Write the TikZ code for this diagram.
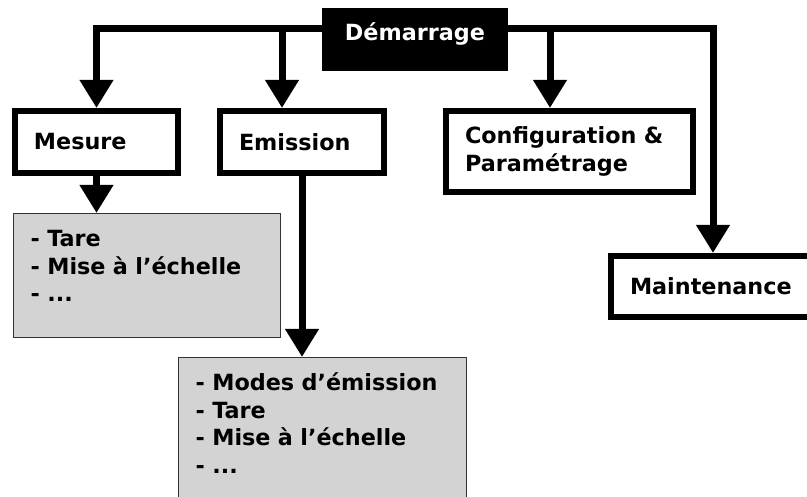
\documentclass[tikz,border=0pt]{standalone}
\usepackage{fontspec}
\setmainfont{DejaVu Sans}
\usepackage{tikz}
\usetikzlibrary{arrows.meta}
\definecolor{listgray}{RGB}{211,211,211}

\begin{document}
\begin{tikzpicture}[x=1pt,y=-1pt,->,>={Triangle[width=32pt,length=28pt]},line width=7pt,
                    every node/.style={font=\bfseries\fontsize{22.3}{27.5}\selectfont},
                    start node/.style={fill=black,draw=black,line width=1pt,text=white,inner sep=0pt,
                      minimum width=185pt,text height=32pt,text depth=30pt},
                    main node/.style={draw,line width=6pt,inner xsep=19pt,inner ysep=0pt,align=left},
                    list node/.style={draw=black!80,fill=listgray,line width=1.3pt,inner xsep=17pt,
                      inner ysep=0pt,text height=33pt,align=left,anchor=north west}]

  \useasboundingbox (0,0) rectangle (807,497);
  \clip (0,0) rectangle (807,497);

  \node[start node] (demarrage) at (415,39.5) {Démarrage};
  \node[main node,text width=125pt,minimum height=62pt] (mesure) at (96.5,142) {Mesure};
  \node[main node,text width=126pt,minimum height=62pt] (emission) at (302,142) {Emission};
  \node[main node,text width=209pt,minimum height=81pt] (config) at (569.5,151.5) {Configuration \&\\Paramétrage};
  \node[main node,text width=166pt,minimum height=61pt] (maint) at (713,286.5) {Maintenance};

  \node[list node,text width=233pt,text depth=91pt] (mesliste) at (13,213)
    {- Tare\\- Mise à l’échelle\\- ...};
  \node[list node,text width=254pt,text depth=130pt] (emliste) at (178,357)
    {- Modes d’émission\\- Tare\\- Mise à l’échelle\\- ...};

  \draw ([yshift=10.5pt]demarrage.west) -| (mesure.north);
  \draw ([yshift=10.5pt]demarrage.west) -| ([xshift=-20pt]emission.north);
  \draw ([yshift=10.5pt]demarrage.east) -| ([xshift=-19.5pt]config.north);
  \draw ([yshift=10.5pt]demarrage.east) -| (maint.north);
  \draw (mesure.south) -- (mesure.south |- mesliste.north);
  \draw (emission.south) -- (emission.south |- emliste.north);
\end{tikzpicture}
\end{document}
